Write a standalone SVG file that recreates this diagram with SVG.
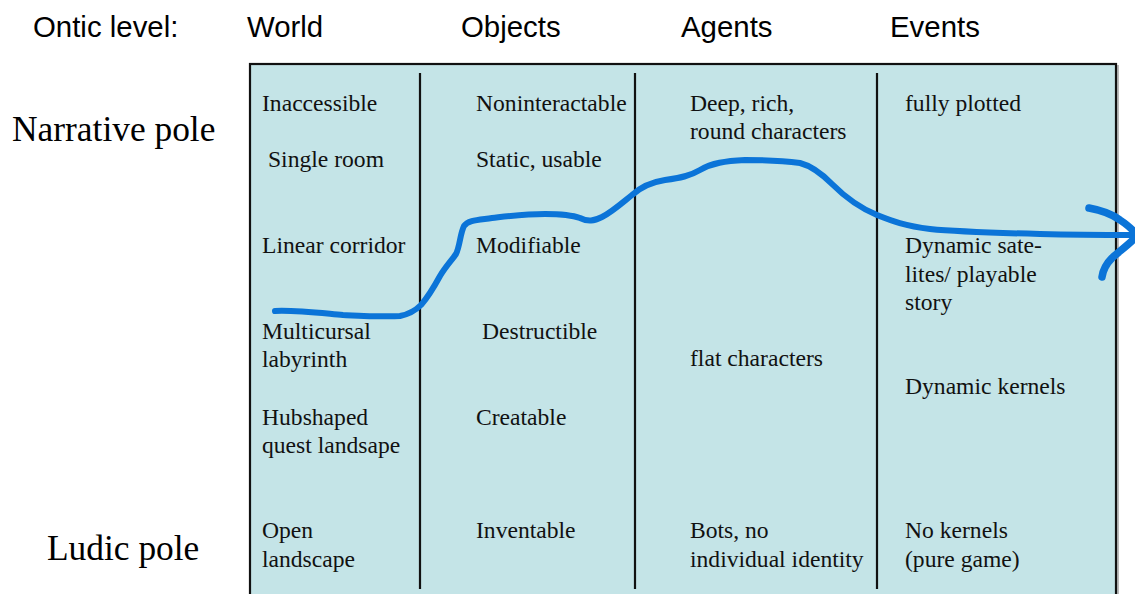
<svg xmlns="http://www.w3.org/2000/svg" width="1135" height="594" viewBox="0 0 1135 594">
  <style>
    .hdr { font-family: "Liberation Sans", Arial, sans-serif; font-size: 29.4px; fill: #000; }
    .pole { font-family: "Liberation Serif", "Times New Roman", serif; font-size: 35.4px; fill: #000; }
    .cell { font-family: "Liberation Serif", "Times New Roman", serif; font-size: 23.6px; fill: #111; }
    .div { stroke: #111; stroke-width: 2.2; }
    .curve { fill: none; stroke: #0b74d8; stroke-width: 6; stroke-linecap: round; stroke-linejoin: round; }
    .head { fill: none; stroke: #0b74d8; stroke-width: 7.5; stroke-linecap: round; stroke-linejoin: round; }
  </style>

  <rect width="1135" height="594" fill="#fff"/>

  <!-- column headings -->
  <g id="headings">
    <text class="hdr" x="33" y="37">Ontic level:</text>
    <text class="hdr" x="247" y="37">World</text>
    <text class="hdr" x="461" y="37">Objects</text>
    <text class="hdr" x="681" y="37">Agents</text>
    <text class="hdr" x="890" y="37">Events</text>
  </g>

  <!-- poles -->
  <g id="poles">
    <text class="pole" x="12" y="141">Narrative pole</text>
    <text class="pole" x="47" y="560">Ludic pole</text>
  </g>

  <!-- table frame -->
  <g id="table">
    <rect x="252" y="66" width="866" height="540" fill="none" stroke="#bbb" stroke-width="2"/>
    <rect x="250" y="64" width="866" height="540" fill="#c4e4e7" stroke="#111" stroke-width="2.2"/>
    <line class="div" x1="420" y1="73" x2="420" y2="589"/>
    <line class="div" x1="635" y1="73" x2="635" y2="589"/>
    <line class="div" x1="877" y1="73" x2="877" y2="589"/>
  </g>

  <g id="col-world">
    <text class="cell" x="262" y="111">Inaccessible</text>
    <text class="cell" x="268" y="167">Single room</text>
    <text class="cell" x="262" y="253">Linear corridor</text>
    <text class="cell" x="262" y="339">Multicursal</text>
    <text class="cell" x="262" y="367">labyrinth</text>
    <text class="cell" x="262" y="425">Hubshaped</text>
    <text class="cell" x="262" y="453">quest landsape</text>
    <text class="cell" x="262" y="538">Open</text>
    <text class="cell" x="262" y="567">landscape</text>
  </g>

  <g id="col-objects">
    <text class="cell" x="476" y="111">Noninteractable</text>
    <text class="cell" x="476" y="167">Static, usable</text>
    <text class="cell" x="476" y="253">Modifiable</text>
    <text class="cell" x="482" y="339">Destructible</text>
    <text class="cell" x="476" y="425">Creatable</text>
    <text class="cell" x="476" y="538">Inventable</text>
  </g>

  <g id="col-agents">
    <text class="cell" x="690" y="111">Deep, rich,</text>
    <text class="cell" x="690" y="139">round characters</text>
    <text class="cell" x="690" y="366">flat characters</text>
    <text class="cell" x="690" y="538">Bots, no</text>
    <text class="cell" x="690" y="567">individual identity</text>
  </g>

  <g id="col-events">
    <text class="cell" x="905" y="111">fully plotted</text>
    <text class="cell" x="905" y="253">Dynamic sate-</text>
    <text class="cell" x="905" y="282">lites/ playable</text>
    <text class="cell" x="905" y="310">story</text>
    <text class="cell" x="905" y="394">Dynamic kernels</text>
    <text class="cell" x="905" y="538">No kernels</text>
    <text class="cell" x="905" y="567">(pure game)</text>
  </g>

  <!-- hand-drawn profile line with open arrowhead -->
  <g id="connectors">
    <path class="curve" d="M275,311 C295,310 320,313 343,315 C365,316 385,317 400,316 C410,314 416,310 421,305 C428,297 434,287 440,276 C446,266 452,260 456,254 C460,246 460,234 464,226 C468,220 478,220 492,218 C510,216 525,214 545,214 C560,214 572,215 580,218 C588,222 594,221 602,217 C612,212 622,203 632,195 C642,186 652,182 665,180 C680,178 690,176 700,170 C712,163 725,161 745,160 C765,160 785,161 800,163 C812,166 822,174 832,184 C846,198 860,208 877,215 C892,221 905,226 930,229 C960,232 1000,233 1040,234 C1080,235 1110,235 1133,235"/>
    <path class="head" d="M1089,208 C1100,210 1112,214 1120,220 C1126,224 1131,228 1134,232"/>
    <path class="head" d="M1134,239 C1128,245 1120,251 1112,258 C1106,264 1103,270 1102,277"/>
  </g>
</svg>
